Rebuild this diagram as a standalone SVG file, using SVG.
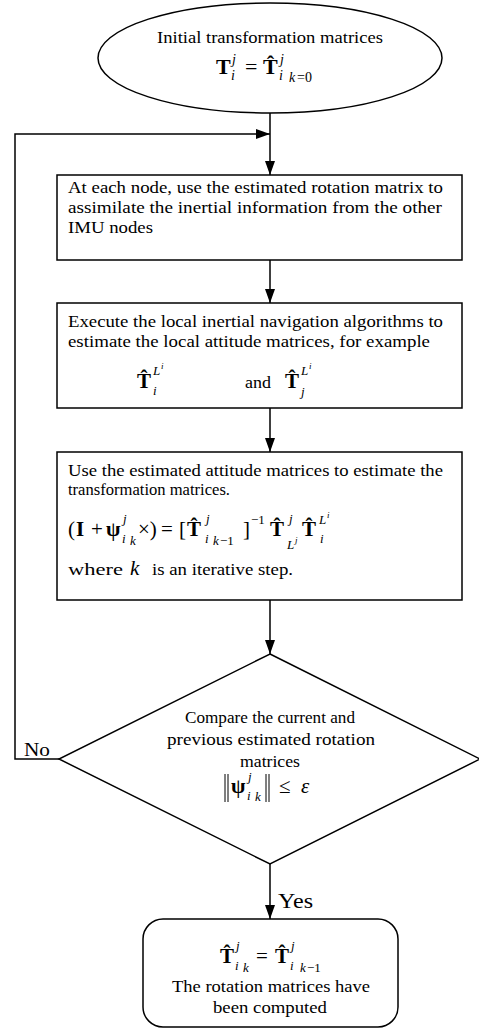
<svg xmlns="http://www.w3.org/2000/svg" width="479" height="1030" viewBox="0 0 479 1030">
<style>
text{font-family:"Liberation Serif","Times New Roman",Times,Tinos,"Nimbus Roman","Noto Serif","DejaVu Serif",serif;fill:#000}
.t{font-size:17px}
.m{font-size:21px}
.b{font-weight:bold}
.i{font-style:italic;font-size:13px}
.s{font-size:13px}
.x{font-size:9px}
.shape{fill:#fff;stroke:#000;stroke-width:1.5}
.conn{fill:none;stroke:#000;stroke-width:1.5}
</style>
<defs>
<marker id="ah" viewBox="0 0 14 10" refX="14" refY="5" markerWidth="14" markerHeight="10" markerUnits="userSpaceOnUse" orient="auto">
<path d="M0,0 L14,5 L0,10 z" fill="#000"/>
</marker>
</defs>
<rect width="479" height="1030" fill="#fff"/>
<g id="connectors">
<path class="conn" d="M270,113 V175" marker-end="url(#ah)"/>
<path class="conn" d="M59,759 H15 V134 H270" marker-end="url(#ah)"/>
<path class="conn" d="M270,260 V303" marker-end="url(#ah)"/>
<path class="conn" d="M270,408 V452" marker-end="url(#ah)"/>
<path class="conn" d="M270,600 V654" marker-end="url(#ah)"/>
<path class="conn" d="M270,864 V919" marker-end="url(#ah)"/>
<text class="t" x="24" y="756" style="font-size:18px" textLength="26" lengthAdjust="spacingAndGlyphs">No</text>
<text class="t" x="278" y="908" style="font-size:21px" textLength="35" lengthAdjust="spacingAndGlyphs">Yes</text>
</g>
<g id="start">
<ellipse class="shape" cx="270" cy="58" rx="172" ry="55"/>
<text class="t" x="157" y="43" textLength="226" lengthAdjust="spacingAndGlyphs">Initial transformation matrices</text>
<text class="m b" x="216" y="74" style="font-size:22px">T</text>
<text class="i" x="232" y="64" style="font-size:14px">j</text>
<text class="i" x="231" y="80" style="font-size:14px">i</text>
<text class="m" x="245" y="74" style="font-size:22px">=</text>
<text class="m b" x="263" y="74" style="font-size:22px">T̂</text>
<text class="i" x="280" y="64" style="font-size:14px">j</text>
<text class="i" x="279" y="80" style="font-size:14px">i</text>
<text class="i" x="289" y="82" style="font-size:14px">k</text>
<text class="s" x="297" y="82" style="font-size:14px">=0</text>
</g>
<g id="assimilate">
<rect class="shape" x="57" y="175" width="405" height="85"/>
<text class="t" x="68" y="193" textLength="375" lengthAdjust="spacingAndGlyphs">At each node, use the estimated rotation matrix to</text>
<text class="t" x="68" y="213" textLength="374" lengthAdjust="spacingAndGlyphs">assimilate the inertial information from the other</text>
<text class="t" x="68" y="233" textLength="85" lengthAdjust="spacingAndGlyphs">IMU nodes</text>
</g>
<g id="local-ins">
<rect class="shape" x="57" y="303" width="405" height="105"/>
<text class="t" x="68" y="327" textLength="375" lengthAdjust="spacingAndGlyphs">Execute the local inertial navigation algorithms to</text>
<text class="t" x="68" y="347" textLength="362" lengthAdjust="spacingAndGlyphs">estimate the local attitude matrices, for example</text>
<text class="m b" x="137" y="388">T̂</text>
<text class="i" x="153" y="375">L</text>
<text class="i x" x="161" y="369">i</text>
<text class="i" x="153" y="395">i</text>
<text class="t" x="245" y="388" textLength="26" lengthAdjust="spacingAndGlyphs">and</text>
<text class="m b" x="285" y="388">T̂</text>
<text class="i" x="301" y="375">L</text>
<text class="i x" x="309" y="369">i</text>
<text class="i" x="301" y="396">j</text>
</g>
<g id="estimate">
<rect class="shape" x="57" y="452" width="405" height="148"/>
<text class="t" x="68" y="476" textLength="375" lengthAdjust="spacingAndGlyphs">Use the estimated attitude matrices to estimate the</text>
<text class="t" x="68" y="495" textLength="162" lengthAdjust="spacingAndGlyphs">transformation matrices.</text>
<text class="m" x="68" y="536">(</text>
<text class="m b" x="76" y="536">I</text>
<text class="m" x="91" y="536">+</text>
<text class="m b" x="106" y="536">ψ</text>
<text class="i" x="123" y="523">j</text>
<text class="i" x="122" y="543">i</text>
<text class="i" x="130" y="545">k</text>
<text class="m" x="138" y="536">×)</text>
<text class="m" x="161" y="536">=</text>
<text class="m" x="179" y="536">[</text>
<text class="m b" x="187" y="536">T̂</text>
<text class="i" x="206" y="523">j</text>
<text class="i" x="205" y="543">i</text>
<text class="i" x="213" y="545">k</text>
<text class="s" x="220" y="545">−1</text>
<text class="m" x="243" y="536">]</text>
<text class="s" x="251" y="524">−1</text>
<text class="m b" x="270" y="536">T̂</text>
<text class="i" x="289" y="523">j</text>
<text class="i" x="287" y="549">L</text>
<text class="i x" x="295" y="543">j</text>
<text class="m b" x="302" y="536">T̂</text>
<text class="i" x="319" y="524">L</text>
<text class="i x" x="327" y="518">i</text>
<text class="i" x="320" y="543">i</text>
<text class="t" x="68" y="575" textLength="55" lengthAdjust="spacingAndGlyphs">where</text>
<text class="m" x="130" y="575" style="font-style:italic">k</text>
<text class="t" x="152" y="575" textLength="141" lengthAdjust="spacingAndGlyphs">is an iterative step.</text>
</g>
<g id="compare">
<polygon class="shape" points="270,654 480,759 270,864 59,759"/>
<text class="t" x="185" y="723" textLength="170" lengthAdjust="spacingAndGlyphs">Compare the current and</text>
<text class="t" x="167" y="745" textLength="208" lengthAdjust="spacingAndGlyphs">previous estimated rotation</text>
<text class="t" x="240" y="767" textLength="60" lengthAdjust="spacingAndGlyphs">matrices</text>
<line x1="225" y1="774" x2="225" y2="802" stroke="#000" stroke-width="1"/>
<line x1="228" y1="774" x2="228" y2="802" stroke="#000" stroke-width="1"/>
<text class="m b" x="231" y="793">ψ</text>
<text class="i" x="248" y="781">j</text>
<text class="i" x="247" y="800">i</text>
<text class="i" x="255" y="801">k</text>
<line x1="266" y1="774" x2="266" y2="802" stroke="#000" stroke-width="1"/>
<line x1="269" y1="774" x2="269" y2="802" stroke="#000" stroke-width="1"/>
<text class="m" x="279" y="793">≤</text>
<text class="m" x="301" y="793" style="font-style:italic">ε</text>
</g>
<g id="done">
<rect class="shape" x="143" y="919" width="255" height="108" rx="20"/>
<text class="m b" x="220" y="963">T̂</text>
<text class="i" x="236" y="950">j</text>
<text class="i" x="235" y="970">i</text>
<text class="i" x="243" y="972">k</text>
<text class="m" x="256" y="963">=</text>
<text class="m b" x="275" y="963">T̂</text>
<text class="i" x="291" y="950">j</text>
<text class="i" x="290" y="970">i</text>
<text class="i" x="300" y="972">k</text>
<text class="s" x="307" y="972">−1</text>
<text class="t" x="172" y="992" textLength="198" lengthAdjust="spacingAndGlyphs">The rotation matrices have</text>
<text class="t" x="213" y="1013" textLength="114" lengthAdjust="spacingAndGlyphs">been computed</text>
</g>
</svg>
